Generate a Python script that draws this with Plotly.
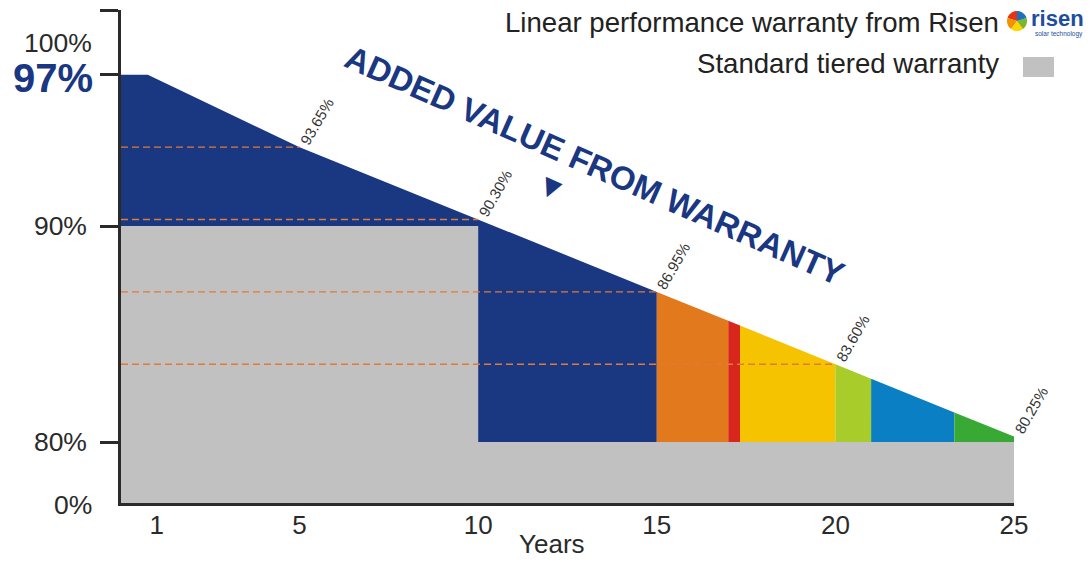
import math
import numpy as np
import plotly.graph_objects as go

# ---------------- data ----------------
years_line = [0, 0.75, 5, 10, 15, 20, 25]
risen_line = [97, 97, 93.65, 90.30, 86.95, 83.60, 80.25]

standard_years = [0, 10, 10, 25]
standard_values = [90, 90, 80, 80]

segment_edges = [0, 15, 17, 17.33, 20, 21, 23.33, 25]
segment_colors = ["#1a3782", "#e2791c", "#d9261c", "#f6c300", "#a8cc2a", "#0a7fc4", "#38a935"]

label_years = [5, 10, 15, 20, 25]
label_values = [93.65, 90.30, 86.95, 83.60, 80.25]

x_ticks = [1, 5, 10, 15, 20, 25]
y_ticks = [80, 90, 97, 100]
y_ticktext = ["80%", "90%", "", ""]

NAVY = "#1a3782"
GRAY = "#c1c1c1"
DASH = "#e07b39"
AXIS = "#2a2a2a"
FONT = "Liberation Sans, Arial, sans-serif"

# ---------------- layout geometry (page pixels) ----------------
OFF = 8                      # default body margin of the html page
PAGE_W, PAGE_H = 1092, 562
W, H = PAGE_W - 2 * OFF, PAGE_H - 2 * OFF
L, R, T, B = 121, 1014, 10, 503
s = 21.6
y_lo = 80 - (B - 442) / s
y_hi = 80 + (442 - T) / s


def xp(px):
    return (px - L) / (R - L)


def yp(py):
    return (B - py) / (B - T)


fig = go.Figure()

# coloured segments under the Risen linear warranty line
for a, b, col in zip(segment_edges[:-1], segment_edges[1:], segment_colors):
    xs = [a] + [x for x in years_line if a < x < b] + [b]
    ys = list(np.interp(xs, years_line, risen_line))
    fig.add_trace(go.Scatter(x=xs, y=ys, mode="lines", fill="tozeroy",
                             fillcolor=col, line=dict(width=0, color=col),
                             hoverinfo="skip", showlegend=False))

# standard tiered warranty
fig.add_trace(go.Scatter(x=standard_years, y=standard_values, mode="lines",
                         fill="tozeroy", fillcolor=GRAY,
                         line=dict(width=0, color=GRAY),
                         hoverinfo="skip", showlegend=False))

# dashed reference lines
for yr, v in zip(label_years[:-1], label_values[:-1]):
    fig.add_trace(go.Scatter(x=[0, yr], y=[v, v], mode="lines",
                             line=dict(color=DASH, width=1.4, dash="7px,4px"),
                             hoverinfo="skip", showlegend=False))


def ann(x, y, text, size, color="#222222", xanchor="center", angle=0,
        family=FONT):
    return dict(x=xp(x), y=yp(y), xref="paper", yref="paper", text=text,
                xanchor=xanchor, yanchor="middle", textangle=angle,
                showarrow=False, font=dict(family=family, size=size, color=color))


annotations = []
for yr, v in zip(label_years, label_values):
    annotations.append(dict(x=yr, y=v, xref="x", yref="y", text=f"{v:.2f}%",
                            textangle=-60, showarrow=False, xshift=17, yshift=26,
                            xanchor="center", yanchor="middle",
                            font=dict(family=FONT, size=15, color="#333333")))

annotations += [
    ann(595, 165, "<b>ADDED VALUE FROM WARRANTY</b>", 33, NAVY, angle=24),
    ann(551, 187, "▼", 24, NAVY, angle=24, family="DejaVu Sans"),
    ann(94, 43, "100%", 26.5, AXIS, xanchor="right"),
    ann(95, 78, "<b>97%</b>", 40, NAVY, xanchor="right"),
    ann(94, 505, "0%", 26.5, AXIS, xanchor="right"),
    ann(552, 544, "Years", 26, AXIS),
    ann(1001, 22, "Linear performance warranty from Risen", 27.6, xanchor="right"),
    ann(1001, 63, "Standard tiered warranty", 27.6, xanchor="right"),
    ann(1029, 19, "<b>risen</b>", 22, "#1c4e9d", xanchor="left"),
    ann(1033, 34, "solar technology", 6.5, "#1c4e9d", xanchor="left"),
]

shapes = [
    dict(type="rect", xref="paper", yref="paper", x0=xp(1023), x1=xp(1054),
         y0=yp(77), y1=yp(57), fillcolor=GRAY, line=dict(width=0)),
]

# Risen logo (multi-coloured disc)
logo_cols = ["#e63312", "#f39200", "#ffd500", "#7ab829", "#1d71b8"]
cx, cy, r = 1017, 21, 10
n = len(logo_cols)
for i, c in enumerate(logo_cols):
    a0 = 2 * math.pi * i / n + math.pi / 2
    a1 = 2 * math.pi * (i + 1) / n + math.pi / 2
    pts = [(cx, cy)]
    for k in range(9):
        a = a0 + (a1 - a0) * k / 8
        pts.append((cx + r * math.cos(a), cy - r * math.sin(a)))
    path = "M " + " L ".join(f"{xp(p[0]):.5f},{yp(p[1]):.5f}" for p in pts) + " Z"
    shapes.append(dict(type="path", xref="paper", yref="paper", path=path,
                       fillcolor=c, line=dict(width=0)))

fig.update_layout(
    width=W, height=H,
    margin=dict(l=L - OFF, r=(OFF + W) - R, t=T - OFF, b=(OFF + H) - B,
                autoexpand=False),
    paper_bgcolor="white", plot_bgcolor="white",
    showlegend=False,
    annotations=annotations,
    shapes=shapes,
    font=dict(family=FONT, color=AXIS),
    xaxis=dict(range=[0, 25], showgrid=False, zeroline=False, automargin=False,
               showline=True, linecolor=AXIS, linewidth=2.5,
               ticks="", tickvals=x_ticks, ticktext=[str(t) for t in x_ticks],
               tickfont=dict(family=FONT, size=26, color=AXIS),
               ticklabelstandoff=-3),
    yaxis=dict(range=[y_lo, y_hi], showgrid=False, zeroline=False, automargin=False,
               showline=True, linecolor=AXIS, linewidth=2.5,
               ticks="outside", ticklen=18, tickwidth=2.5, tickcolor=AXIS,
               tickvals=y_ticks, ticktext=y_ticktext,
               tickfont=dict(family=FONT, size=26.5, color=AXIS),
               ticklabelstandoff=8, ticklabeloverflow="allow"),
)

fig.write_html("out.html")
